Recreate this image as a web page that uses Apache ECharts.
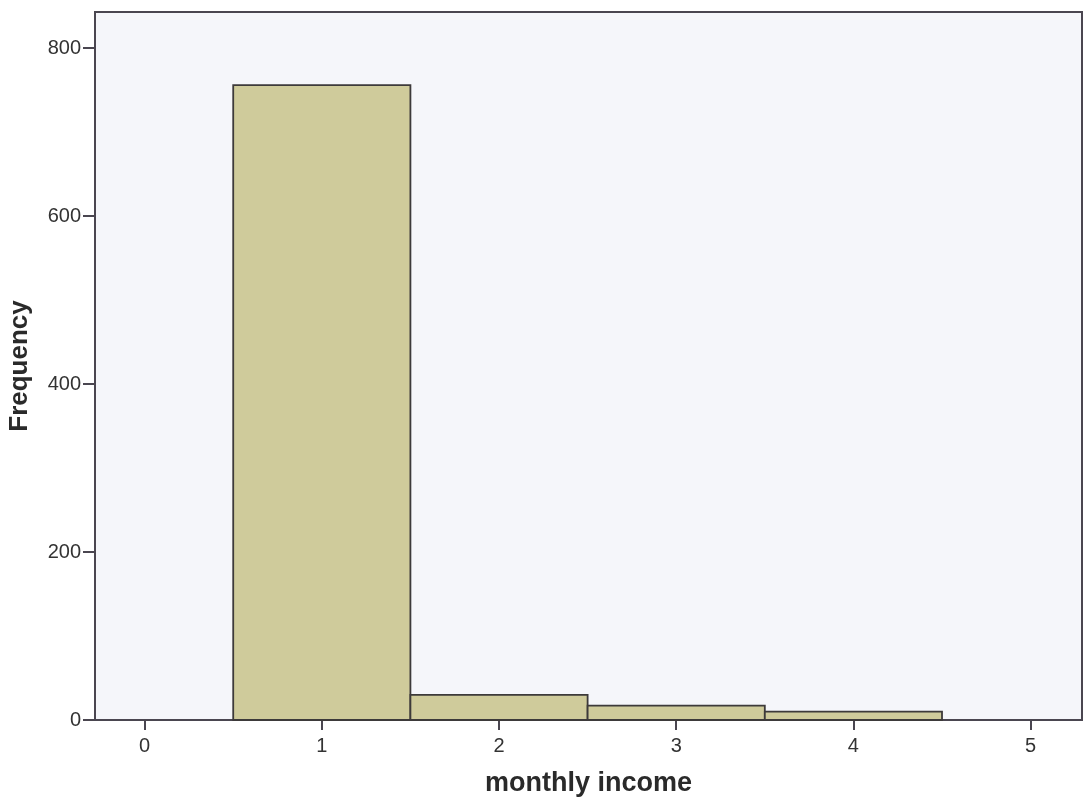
<!DOCTYPE html>
<html>
<head>
<meta charset="utf-8">
<script src="https://cdn.jsdelivr.net/npm/echarts@6/dist/echarts.min.js"></script>
<style>
html,body{margin:0;padding:0;background:#fff;}
#chart{width:1084px;height:799px;}
</style>
</head>
<body>
<div id="chart"></div>
<script>
// Data
const binCenters = [1, 2, 3, 4];
const frequencies = [756, 30, 17, 10];
const xTickValues = [0, 1, 2, 3, 4, 5];
const yTickValues = [0, 200, 400, 600, 800];
const xTitle = 'monthly income';
const yTitle = 'Frequency';

const chart = echarts.init(document.getElementById('chart'));
const data = binCenters.map((c, i) => [c, frequencies[i]]);

chart.setOption({
  animation: false,
  backgroundColor: '#ffffff',
  grid: {
    left: 95, right: 2, top: 12, bottom: 79,
    containLabel: false, outerBoundsMode: 'none',
    show: true, backgroundColor: '#f5f6fa', borderColor: '#4a4650', borderWidth: 2
  },
  xAxis: {
    type: 'value', min: -0.28, max: 5.29,
    name: xTitle, nameLocation: 'middle', nameGap: 50,
    nameTextStyle: {fontFamily: 'Liberation Sans', fontWeight: 'bold', fontSize: 27, color: '#2a2a2a'},
    axisLine: {show: true, onZero: false, lineStyle: {color: '#4a4650', width: 2}},
    axisTick: {show: true, inside: false, length: 10, customValues: xTickValues, lineStyle: {color: '#4a4650', width: 2}},
    axisLabel: {customValues: xTickValues, fontFamily: 'Liberation Sans', fontSize: 20, color: '#333', margin: 16},
    splitLine: {show: false}
  },
  yAxis: {
    type: 'value', min: 0, max: 843,
    name: yTitle, nameLocation: 'middle', nameGap: 62, nameRotate: 90,
    nameTextStyle: {fontFamily: 'Liberation Sans', fontWeight: 'bold', fontSize: 26, color: '#2a2a2a'},
    axisLine: {show: true, onZero: false, lineStyle: {color: '#4a4650', width: 2}},
    axisTick: {show: true, inside: false, length: 12, customValues: yTickValues, lineStyle: {color: '#4a4650', width: 2}},
    axisLabel: {customValues: yTickValues, fontFamily: 'Liberation Sans', fontSize: 20, color: '#333', margin: 14},
    splitLine: {show: false}
  },
  series: [{
    type: 'custom',
    data: data,
    renderItem: function (params, api) {
      const x = api.value(0), y = api.value(1);
      const p0 = api.coord([x - 0.5, y]);
      const p1 = api.coord([x + 0.5, 0]);
      return {
        type: 'rect',
        shape: {x: p0[0], y: p0[1], width: p1[0] - p0[0], height: p1[1] - p0[1]},
        style: {fill: '#cfcb9b', stroke: '#3d3a3a', lineWidth: 1.8}
      };
    }
  }]
});
</script>
</body>
</html>
